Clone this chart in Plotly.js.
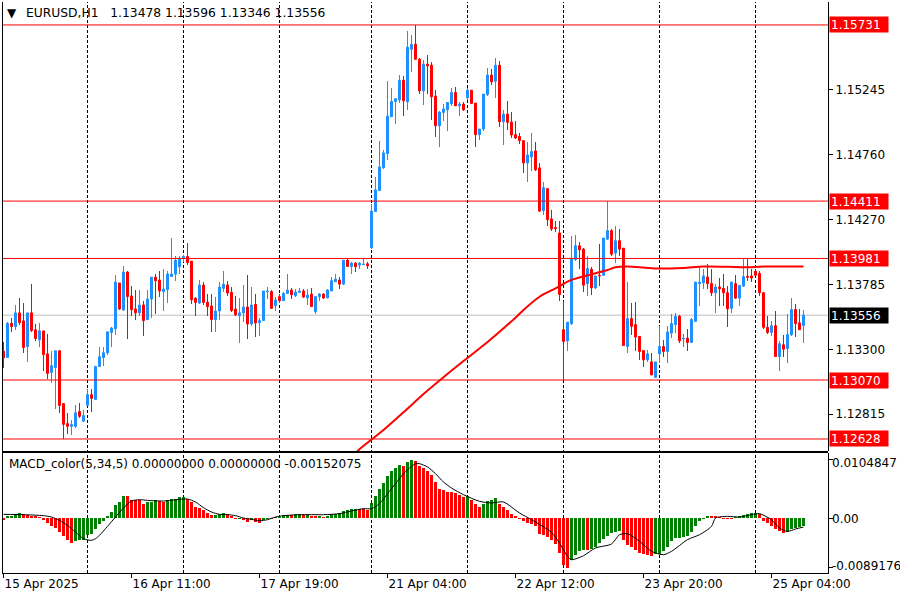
<!DOCTYPE html>
<html>
<head>
<meta charset="utf-8">
<script src="https://cdn.plot.ly/plotly-3.0.1.min.js"></script>
<style>html,body{margin:0;padding:0;background:#fff;}#chart{width:900px;height:600px;}</style>
</head>
<body>
<div id="chart"></div>
<script>
// ---- Candle data (EURUSD H1) ----
const open = [1.13286,1.13239,1.13495,1.13470,1.13573,1.13513,1.13321,1.13573,1.13446,1.13371,
1.13438,1.13266,1.13127,1.13164,1.13289,1.12893,1.12743,1.12723,1.12723,1.12833,
1.12761,1.12880,1.12960,1.12925,1.13172,1.13239,1.13274,1.13426,1.13455,1.13797,
1.13595,1.13879,1.13700,1.13602,1.13573,1.13632,1.13523,1.13677,1.13841,1.13819,
1.13732,1.13747,1.13846,1.13864,1.13919,1.13981,1.13996,1.13961,1.13682,1.13647,
1.13782,1.13652,1.13625,1.13523,1.13587,1.13757,1.13782,1.13727,1.13602,1.13553,
1.13573,1.13617,1.13490,1.13637,1.13500,1.13515,1.13732,1.13732,1.13627,1.13695,
1.13665,1.13719,1.13744,1.13702,1.13727,1.13737,1.13685,1.13714,1.13582,1.13695,
1.13714,1.13685,1.13737,1.13807,1.13819,1.13789,1.13968,1.13921,1.13946,1.13931,
1.13934,1.13941,1.14062,1.14333,1.14490,1.14662,1.14767,1.15043,1.15158,1.15170,
1.15317,1.15155,1.15549,1.15586,1.15474,1.15237,1.15437,1.15429,1.15198,1.14976,
1.15076,1.15096,1.15140,1.15225,1.15125,1.15138,1.15185,1.15242,1.15145,1.14909,
1.14951,1.15210,1.15355,1.15310,1.15429,1.15006,1.15063,1.15003,1.14909,1.14896,
1.14864,1.14697,1.14742,1.14787,1.14660,1.14340,1.14504,1.14277,1.14212,1.14172,
1.13447,1.13364,1.13493,1.13975,1.14076,1.14051,1.13792,1.13900,1.13761,1.13855,
1.13855,1.14126,1.14189,1.14021,1.14114,1.14058,1.13321,1.13530,1.13485,1.13397,
1.13291,1.13221,1.13206,1.13090,1.13266,1.13321,1.13284,1.13422,1.13485,1.13548,
1.13377,1.13384,1.13352,1.13510,1.13792,1.13799,1.13842,1.13794,1.13724,1.13767,
1.13757,1.13724,1.13608,1.13792,1.13684,1.13774,1.13847,1.13850,1.13885,1.13870,
1.13724,1.13465,1.13427,1.13477,1.13246,1.13334,1.13306,1.13410,1.13598,1.13498,
1.13478];
const high = [1.13353,1.13503,1.13535,1.13632,1.13685,1.13647,1.13575,1.13789,1.13490,1.13495,
1.13440,1.13416,1.13284,1.13290,1.13292,1.12895,1.12825,1.12768,1.12880,1.12900,
1.12843,1.13000,1.13000,1.13175,1.13314,1.13314,1.13433,1.13470,1.13859,1.13800,
1.13921,1.13884,1.13774,1.13742,1.13742,1.13665,1.13742,1.13843,1.13864,1.13889,
1.13901,1.13889,1.14133,1.14001,1.14001,1.14006,1.14095,1.13963,1.13695,1.13819,
1.13802,1.13714,1.13714,1.13692,1.13802,1.13886,1.13809,1.13764,1.13702,1.13685,
1.13782,1.13856,1.13769,1.13712,1.13533,1.13739,1.13769,1.13747,1.13690,1.13714,
1.13727,1.13864,1.13757,1.13752,1.13757,1.13752,1.13752,1.13757,1.13702,1.13719,
1.13719,1.13752,1.13844,1.13861,1.13839,1.13973,1.13978,1.13956,1.13951,1.13951,
1.13976,1.13951,1.14390,1.14592,1.14861,1.14797,1.15312,1.15257,1.15185,1.15355,
1.15347,1.15683,1.15653,1.15731,1.15487,1.15469,1.15504,1.15454,1.15247,1.15086,
1.15138,1.15152,1.15255,1.15267,1.15150,1.15150,1.15255,1.15244,1.15147,1.14953,
1.15215,1.15407,1.15404,1.15482,1.15462,1.15095,1.15163,1.15076,1.15013,1.14921,
1.14866,1.14851,1.14921,1.14856,1.14697,1.14554,1.14506,1.14345,1.14265,1.14265,
1.13661,1.13505,1.14151,1.14156,1.14106,1.14063,1.13996,1.13920,1.13852,1.14089,
1.14136,1.14411,1.14202,1.14227,1.14202,1.14060,1.13804,1.13648,1.13653,1.13402,
1.13296,1.13296,1.13271,1.13208,1.13472,1.13372,1.13472,1.13565,1.13573,1.13560,
1.13417,1.13452,1.13535,1.13806,1.13920,1.13905,1.13943,1.13900,1.13787,1.13837,
1.13867,1.13774,1.13806,1.13855,1.13781,1.13975,1.13981,1.13900,1.13900,1.13887,
1.13726,1.13548,1.13510,1.13591,1.13359,1.13410,1.13565,1.13681,1.13643,1.13603,
1.13596];
const low = [1.13159,1.13235,1.13433,1.13446,1.13483,1.13274,1.13202,1.13433,1.13366,1.13321,
1.13134,1.13080,1.13045,1.12850,1.12823,1.12628,1.12664,1.12656,1.12711,1.12786,
1.12756,1.12873,1.12828,1.12922,1.13170,1.13177,1.13254,1.13321,1.13408,1.13597,
1.13587,1.13381,1.13553,1.13523,1.13548,1.13401,1.13520,1.13535,1.13565,1.13695,
1.13590,1.13650,1.13839,1.13814,1.13864,1.13951,1.13934,1.13640,1.13553,1.13640,
1.13632,1.13553,1.13433,1.13433,1.13523,1.13727,1.13702,1.13578,1.13553,1.13344,
1.13503,1.13378,1.13478,1.13396,1.13398,1.13513,1.13677,1.13605,1.13590,1.13647,
1.13663,1.13714,1.13677,1.13690,1.13722,1.13685,1.13632,1.13615,1.13565,1.13662,
1.13677,1.13682,1.13735,1.13802,1.13749,1.13782,1.13914,1.13864,1.13876,1.13901,
1.13931,1.13904,1.14054,1.14328,1.14483,1.14652,1.14722,1.15038,1.14988,1.15145,
1.15051,1.15095,1.15379,1.15469,1.15213,1.15130,1.15213,1.15021,1.14894,1.14819,
1.15008,1.14939,1.15125,1.15120,1.15051,1.15083,1.15168,1.15141,1.14819,1.14871,
1.14936,1.15200,1.15280,1.15183,1.14968,1.14831,1.14944,1.14881,1.14876,1.14839,
1.14622,1.14557,1.14640,1.14640,1.14328,1.14307,1.14227,1.14189,1.14177,1.13661,
1.13070,1.13284,1.13480,1.13963,1.13900,1.13729,1.13699,1.13709,1.13754,1.13774,
1.13850,1.14121,1.14001,1.13950,1.14001,1.13327,1.13276,1.13410,1.13284,1.13221,
1.13166,1.13208,1.13106,1.13083,1.13201,1.13246,1.13201,1.13384,1.13422,1.13347,
1.13314,1.13291,1.13347,1.13508,1.13623,1.13749,1.13749,1.13699,1.13573,1.13628,
1.13623,1.13467,1.13573,1.13679,1.13628,1.13767,1.13812,1.13804,1.13850,1.13699,
1.13455,1.13417,1.13402,1.13241,1.13140,1.13241,1.13201,1.13402,1.13389,1.13442,
1.13346];
const close = [1.13236,1.13495,1.13470,1.13573,1.13500,1.13314,1.13573,1.13441,1.13381,1.13438,
1.13261,1.13119,1.13177,1.13289,1.12880,1.12738,1.12723,1.12736,1.12825,1.12798,
1.12803,1.12960,1.12933,1.13172,1.13244,1.13274,1.13431,1.13460,1.13804,1.13602,
1.13879,1.13695,1.13597,1.13573,1.13632,1.13515,1.13677,1.13841,1.13814,1.13737,
1.13752,1.13864,1.13864,1.13968,1.13981,1.13996,1.13951,1.13672,1.13652,1.13782,
1.13652,1.13620,1.13523,1.13587,1.13767,1.13787,1.13722,1.13590,1.13558,1.13573,
1.13617,1.13490,1.13632,1.13498,1.13515,1.13737,1.13737,1.13607,1.13670,1.13665,
1.13719,1.13744,1.13709,1.13729,1.13737,1.13692,1.13707,1.13620,1.13695,1.13714,
1.13685,1.13744,1.13814,1.13827,1.13789,1.13968,1.13921,1.13946,1.13919,1.13946,
1.13939,1.13926,1.14336,1.14495,1.14667,1.14772,1.15048,1.15158,1.15178,1.15317,
1.15163,1.15564,1.15586,1.15474,1.15237,1.15437,1.15424,1.15193,1.14976,1.15078,
1.15101,1.15150,1.15225,1.15125,1.15138,1.15095,1.15242,1.15143,1.14909,1.14951,
1.15213,1.15355,1.15305,1.15429,1.15006,1.15063,1.15001,1.14906,1.14884,1.14864,
1.14697,1.14757,1.14782,1.14645,1.14336,1.14511,1.14272,1.14202,1.14204,1.13711,
1.13359,1.13503,1.13975,1.14076,1.14046,1.13781,1.13905,1.13761,1.13850,1.13850,
1.14134,1.14189,1.14013,1.14114,1.14051,1.13329,1.13530,1.13472,1.13392,1.13284,
1.13221,1.13266,1.13108,1.13206,1.13321,1.13284,1.13430,1.13493,1.13548,1.13364,
1.13384,1.13352,1.13523,1.13804,1.13804,1.13850,1.13792,1.13724,1.13767,1.13754,
1.13724,1.13603,1.13804,1.13684,1.13779,1.13845,1.13840,1.13835,1.13855,1.13724,
1.13465,1.13427,1.13477,1.13246,1.13342,1.13301,1.13410,1.13598,1.13493,1.13447,
1.13556];

// ---- MACD_color(5,34,5) histogram, one value per bar ----
const macd = [-0.00030,0.00036,0.00042,0.00078,0.00090,0.00066,0.00054,0.00042,0.00030,0.00018,
-0.00042,-0.00090,-0.00138,-0.00174,-0.00246,-0.00329,-0.00389,-0.00443,-0.00413,-0.00401,
-0.00389,-0.00311,-0.00282,-0.00192,-0.00114,-0.00054,0.00036,0.00108,0.00228,0.00288,
0.00395,0.00389,0.00329,0.00323,0.00317,0.00258,0.00282,0.00288,0.00317,0.00305,
0.00288,0.00317,0.00335,0.00347,0.00371,0.00383,0.00347,0.00288,0.00198,0.00174,
0.00138,0.00090,0.00054,0.00060,0.00066,0.00090,0.00078,0.00042,-0.00024,-0.00012,
-0.00042,-0.00072,-0.00042,-0.00066,-0.00090,-0.00030,-0.00012,-0.00018,0.00018,0.00024,
0.00048,0.00060,0.00054,0.00066,0.00068,0.00048,0.00050,0.00036,0.00034,0.00042,
0.00024,0.00036,0.00066,0.00078,0.00090,0.00120,0.00150,0.00162,0.00168,0.00162,
0.00156,0.00150,0.00276,0.00395,0.00515,0.00635,0.00749,0.00845,0.00893,0.00952,
0.00928,0.01012,0.0104847,0.01024,0.00940,0.00893,0.00839,0.00779,0.00640,0.00530,
0.00500,0.00473,0.00461,0.00449,0.00419,0.00371,0.00401,0.00329,0.00258,0.00192,
0.00252,0.00300,0.00329,0.00359,0.00258,0.00198,0.00138,0.00078,0.00030,-0.00018,
-0.00060,-0.00090,-0.00102,-0.00138,-0.00288,-0.00300,-0.00347,-0.00389,-0.00467,-0.00629,
-0.00839,-0.0089176,-0.00761,-0.00659,-0.00599,-0.00569,-0.00581,-0.00557,-0.00521,-0.00449,
-0.00377,-0.00317,-0.00270,-0.00246,-0.00240,-0.00389,-0.00479,-0.00527,-0.00569,-0.00629,
-0.00647,-0.00671,-0.00689,-0.00647,-0.00641,-0.00599,-0.00521,-0.00419,-0.00359,-0.00353,
-0.00341,-0.00317,-0.00258,-0.00138,-0.00060,-0.00012,0.00042,0.00036,0.00030,0.00024,
-0.00012,-0.00018,-0.00024,0.00012,0.00030,0.00054,0.00072,0.00090,0.00096,0.00072,
-0.00048,-0.00090,-0.00138,-0.00198,-0.00240,-0.00270,-0.00252,-0.00198,-0.00174,-0.00162,
-0.00152];

// ---- MACD signal line, read at selected bars ----
const sigBar = [0,5,10,12,14,16,18,20,22,23,24,26,28,30,32,34,36,40,44,46,48,50,52,54,56,58,60,62,64,66,68,70,74,80,84,87,90,92,94,96,98,100,102,103,104,106,108,109,110,112,115,119,122,125,129,132,137,139,141,142,145,148,152,154,156,159,162,165,167,171,174,177,178,181,184,187,189,192,194,196,198,200];
const sigVal = [0.00066,0.00060,0.00042,0.00018,-0.00042,-0.00132,-0.00252,-0.00371,-0.00401,-0.00371,-0.00311,-0.00150,0.00018,0.00180,0.00305,0.00329,0.00317,0.00305,0.00335,0.00341,0.00288,0.00186,0.00108,0.00066,0.00060,0.00042,0.00000,-0.00024,-0.00048,-0.00030,0.00018,0.00042,0.00060,0.00060,0.00078,0.00126,0.00168,0.00168,0.00258,0.00437,0.00617,0.00797,0.00928,0.00976,0.00976,0.00917,0.00797,0.00719,0.00647,0.00539,0.00419,0.00300,0.00270,0.00288,0.00090,-0.00030,-0.00258,-0.00449,-0.00689,-0.00749,-0.00677,-0.00539,-0.00467,-0.00300,-0.00282,-0.00419,-0.00599,-0.00659,-0.00599,-0.00389,-0.00300,-0.00150,0.00000,0.00030,0.00018,0.00060,0.00078,-0.00030,-0.00180,-0.00240,-0.00198,-0.00162];

// ---- Red moving average, read at selected bars ----
const maBar = [88,89,95,100,105,110,115,120,125,128,130,134,138,142,147,151,153,156,160,164,170,175,181,186,190,200];
const maVal = [1.12520,1.12551,1.12695,1.12828,1.12965,1.13091,1.13212,1.13330,1.13458,1.13537,1.13595,1.13694,1.13757,1.13820,1.13862,1.13895,1.13915,1.13920,1.13913,1.13905,1.13910,1.13920,1.13918,1.13915,1.13920,1.13920];

// ---- Levels, axes labels ----
const levels = [1.15731, 1.14411, 1.13981, 1.13070, 1.12628];
const lastPrice = 1.13556;
const priceTicks = [1.15245, 1.14760, 1.14270, 1.13785, 1.13300, 1.12815];
const timeTickBars = [0, 32, 64, 96, 128, 160, 192];
const timeTickLabels = ['15 Apr 2025', '16 Apr 11:00', '17 Apr 19:00', '21 Apr 04:00', '22 Apr 12:00', '23 Apr 20:00', '25 Apr 04:00'];
const separatorBars = [21, 45, 69, 92, 116, 140, 164, 188];
const macdTicks = [0.0104847, 0, -0.0089176];
const macdTickLabels = ['0.0104847', '0.00', '-0.0089176'];
const header = 'EURUSD,H1\u00a0\u00a0 1.13478 1.13596 1.13346 1.13556';
const macdHeader = 'MACD_color(5,34,5) 0.00000000 0.00000000 -0.00152075';

// ---- build ----
const FONT = 'DejaVu Sans';
const UP = '#1e90ff', DN = '#ff0000', GR = '#008000';
const idx = open.map((_, i) => i);
const candleCol = close.map((c, i) => c >= open[i] ? UP : DN);
const bodyBase = close.map((c, i) => Math.min(c, open[i]));
const bodyLen = close.map((c, i) => Math.abs(c - open[i]));
const wickLen = high.map((h, i) => h - low[i]);
const macdCol = macd.map((v, i) => (i > 0 && v > macd[i - 1]) ? GR : DN);

const MAIN_DOM = [0.21366, 1];
const MACD_DOM = [0, 0.21016];
const SPLIT_Y = 0.211909;   // one 2px border between the two panels
const LEFT_X = 0.000605;    // crisp left border

const traces = [
  {type:'bar', x: idx, y: wickLen, base: low, width: 0.25, xaxis:'x', yaxis:'y',
   marker:{color: candleCol, line:{width:0}}, hoverinfo:'skip'},
  {type:'bar', x: idx, y: bodyLen, base: bodyBase, width: 0.5, xaxis:'x', yaxis:'y',
   marker:{color: candleCol, line:{width:1, color: candleCol}}, hoverinfo:'skip'},
  {type:'scatter', mode:'lines', x: maBar, y: maVal, xaxis:'x', yaxis:'y',
   line:{color:'#ff0000', width:2, shape:'spline', smoothing:0.8}, hoverinfo:'skip'},
  {type:'bar', x: idx, y: macd, width: 0.7, xaxis:'x', yaxis:'y2',
   marker:{color: macdCol, line:{width:0}}, hoverinfo:'skip'},
  {type:'scatter', mode:'lines', x: sigBar, y: sigVal, xaxis:'x', yaxis:'y2',
   line:{color:'#000000', width:1, shape:'spline', smoothing:0.7}, hoverinfo:'skip'}
];

const shapes = [];
separatorBars.forEach(b => shapes.push({type:'line', xref:'x', yref:'paper', x0:b, x1:b, y0:0, y1:1,
  line:{color:'#000', width:1, dash:'3px,2px'}, layer:'below'}));
shapes.push({type:'line', xref:'paper', yref:'y', x0:0, x1:1, y0:lastPrice, y1:lastPrice,
  line:{color:'#c0c0c0', width:1}, layer:'below'});
levels.forEach(l => shapes.push({type:'line', xref:'paper', yref:'y', x0:0, x1:1, y0:l, y1:l,
  line:{color:'#ff0000', width:1}, layer:'above'}));
// frames
shapes.push({type:'line', xref:'paper', yref:'paper', x0:LEFT_X, x1:LEFT_X, y0:0, y1:1, line:{color:'#000', width:1}});
shapes.push({type:'line', xref:'paper', yref:'paper', x0:0, x1:1, y0:SPLIT_Y, y1:SPLIT_Y, line:{color:'#000', width:2}});

const annotations = [];
annotations.push({xref:'paper', yref:'paper', x:0.0035, y:0.9815, xanchor:'left', yanchor:'middle',
  text:'\u25bc', showarrow:false, font:{family:FONT, size:12, color:'#000'}});
annotations.push({xref:'paper', yref:'paper', x:0.0266, y:0.9807, xanchor:'left', yanchor:'middle',
  text:header, showarrow:false, font:{family:FONT, size:12.3, color:'#000'}});
annotations.push({xref:'paper', yref:'paper', x:0.006, y:0.1909, xanchor:'left', yanchor:'middle',
  text:macdHeader, showarrow:false, font:{family:FONT, size:12, color:'#000'}});
levels.forEach(l => annotations.push({xref:'paper', yref:'y', x:1, xshift:1, y:l, xanchor:'left', yanchor:'middle',
  text:l.toFixed(5), showarrow:false, bgcolor:'#ff0000', borderpad:1, width:56, height:13, align:'left',
  font:{family:FONT, size:12, color:'#ffffff'}}));
annotations.push({xref:'paper', yref:'y', x:1, xshift:1, y:lastPrice, xanchor:'left', yanchor:'middle',
  text:lastPrice.toFixed(5), showarrow:false, bgcolor:'#000000', borderpad:1, width:56, height:13, align:'left',
  font:{family:FONT, size:12, color:'#ffffff'}});
macdTicks.forEach((v, k) => annotations.push({xref:'paper', yref:'y2', x:1, xshift:2, y:v,
  yshift: k === 0 ? -3 : (k === 2 ? 2 : -1), xanchor:'left', yanchor:'middle',
  text:macdTickLabels[k], showarrow:false, font:{family:FONT, size:12, color:'#000'}}));

const layout = {
  width:900, height:600,
  margin:{l:2, r:72, t:2, b:27},
  paper_bgcolor:'#ffffff', plot_bgcolor:'#ffffff',
  showlegend:false, hovermode:false, barmode:'overlay', bargap:0,
  font:{family:FONT, size:12, color:'#000'},
  xaxis:{range:[-0.375, 206.125], anchor:'y2', showgrid:false, zeroline:false,
    tickmode:'array', tickvals:timeTickBars, ticktext:timeTickLabels,
    ticks:'outside', ticklen:4, tickcolor:'#000', ticklabelposition:'outside right',
    showline:true, linecolor:'#000', linewidth:1,
    tickfont:{family:FONT, size:12, color:'#000'}},
  yaxis:{domain:MAIN_DOM, range:[1.12538, 1.15903], side:'right', anchor:'x',
    showgrid:false, zeroline:false, tickmode:'array', tickvals:priceTicks,
    ticktext:priceTicks.map(v => v.toFixed(5)),
    ticks:'outside', ticklen:4, tickcolor:'#000',
    showline:true, linecolor:'#000', linewidth:1,
    tickfont:{family:FONT, size:12, color:'#000'}},
  yaxis2:{domain:MACD_DOM, range:[-0.00988, 0.01168], side:'right', anchor:'x',
    showgrid:false, zeroline:false, tickmode:'array', tickvals:macdTicks,
    showticklabels:false, ticks:'outside', ticklen:4, tickcolor:'#000',
    showline:true, linecolor:'#000', linewidth:1},
  shapes:shapes,
  annotations:annotations
};

Plotly.newPlot('chart', traces, layout, {displayModeBar:false, staticPlot:true});
</script>
</body>
</html>
